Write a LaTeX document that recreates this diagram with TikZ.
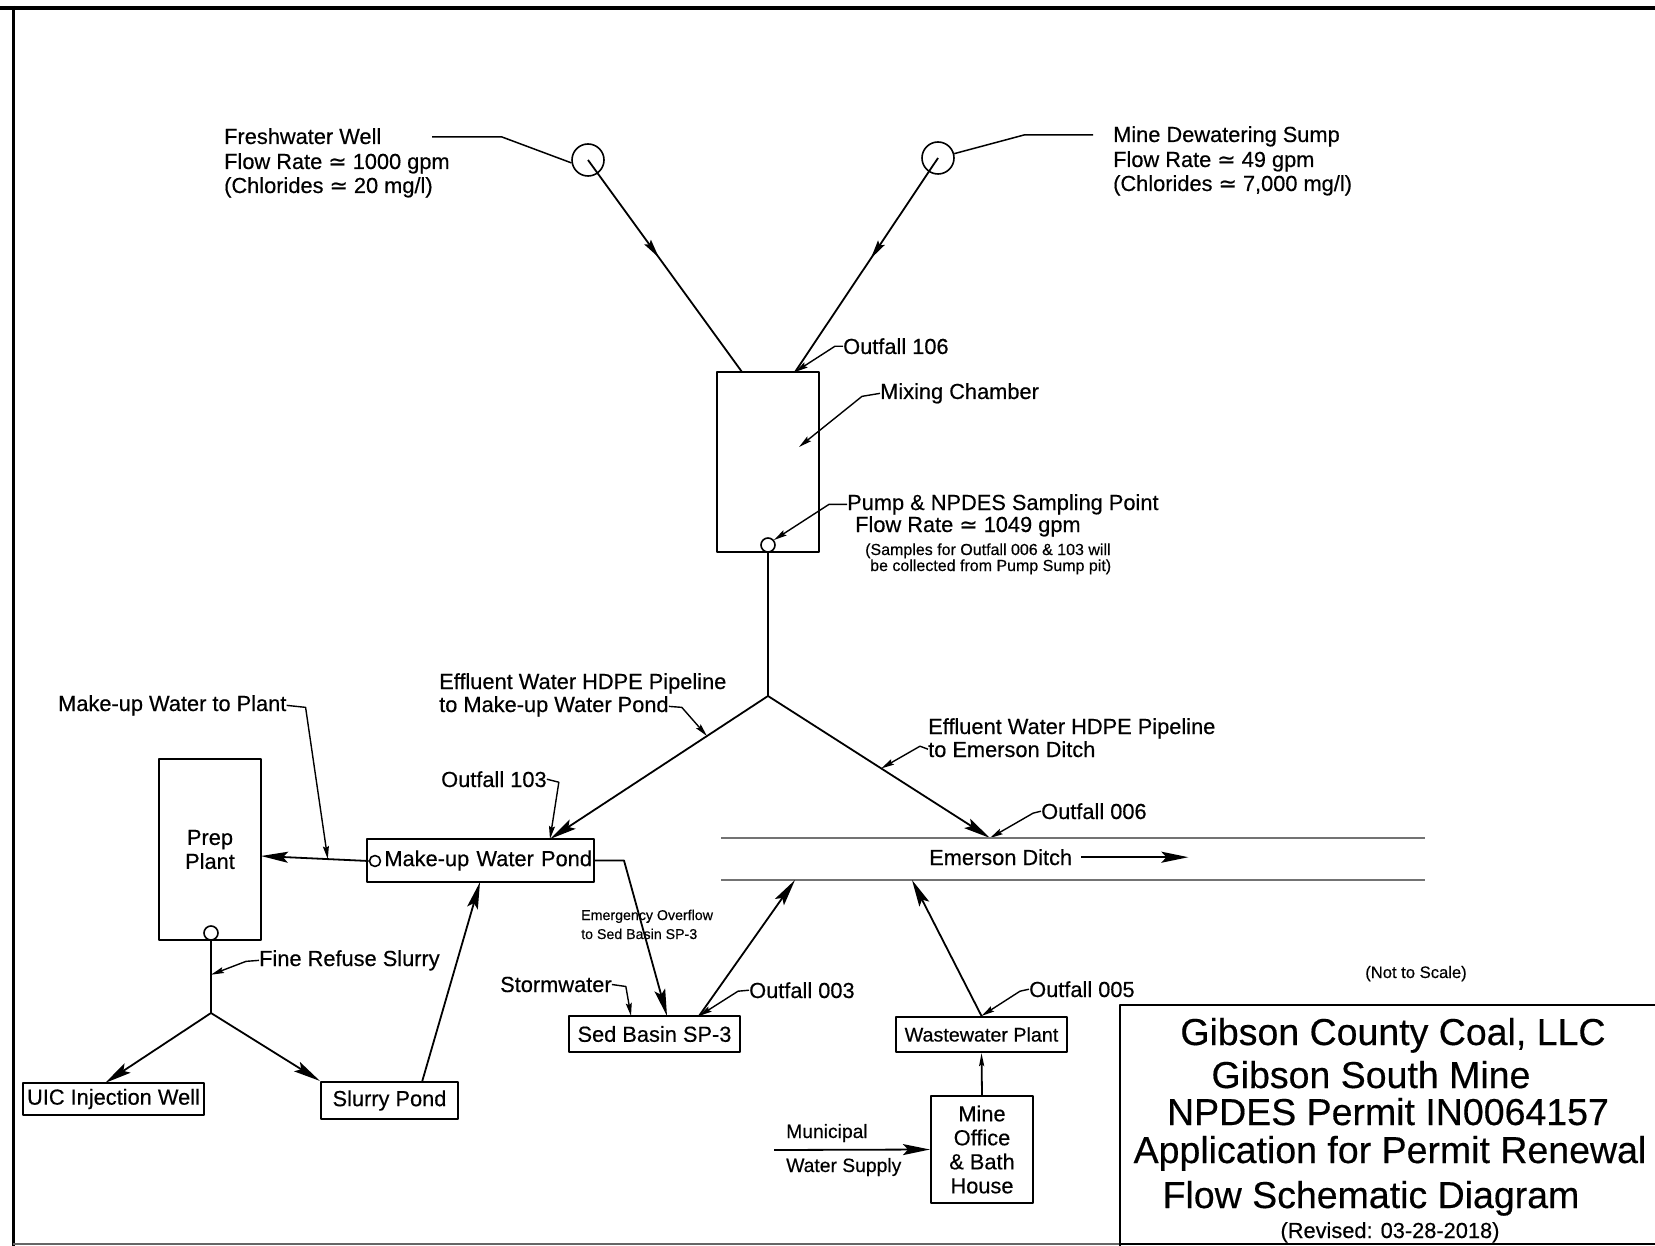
\documentclass[tikz,border=0pt]{standalone}
\usepackage{fontspec}
\setmainfont{Liberation Sans}[FakeBold=0.4]
\newfontfamily\dvsym{DejaVu Sans}[FakeBold=0.4]
\usetikzlibrary{arrows.meta,calc,decorations.markings}
\newcommand\approxsym{{\dvsym ≃}}
\newcommand\fmain{\fontsize{21.8}{24}\selectfont}
\newcommand\fsmall{\fontsize{16}{17}\selectfont}
\newcommand\ftiny{\fontsize{14.2}{16}\selectfont}
\newcommand\fmuni{\fontsize{19.3}{22}\selectfont}
\newcommand\fww{\fontsize{19.7}{22}\selectfont}
\newcommand\ftitle{\fontsize{37.5}{40}\selectfont}
\newcommand\fnote{\fontsize{16.6}{18}\selectfont}
\begin{document}
\begin{tikzpicture}[x=1pt,y=-1pt,line join=round,
  pipe/.style={line width=1.8pt},
  flow/.style={pipe,-{Stealth[length=27pt,width=11pt,inset=5pt]}},
  smallflow/.style={pipe,-{Stealth[length=13pt,width=5pt,inset=2pt]}},
  lead/.style={line width=1.4pt,-{Stealth[length=13pt,width=6pt,inset=2pt]}},
  ldr/.style={line width=1.5pt},
  midarr/.style={pipe,postaction={decorate},decoration={markings,mark=at position #1 with {\arrow{Stealth[length=19pt,width=8pt,inset=3pt]}}}},
  box/.style={draw,line width=2.1pt,inner sep=0pt,font=\fmain,align=center},
  lbl/.style={inner sep=0pt,anchor=base west,font=\fmain},
  ring/.style={draw,circle,line width=1.6pt,inner sep=0pt},
  ditchline/.style={line width=1.8pt,black!55},
  ttl/.style={inner sep=0pt,anchor=base,font=\ftitle}]
\fill[white] (0,0) rectangle (1655,1246);
\useasboundingbox (0,0) rectangle (1655,1246);
% page border
\draw[line width=4.5pt] (0,8) -- (1655,8);
\draw[line width=3pt] (13,6) -- (13,1246);
\draw[line width=1.5pt,black!60] (13,1244) -- (1655,1244);

% sources
\node[ring,minimum size=32pt] (fwC) at (588,160) {};
\node[ring,minimum size=32pt] (mdC) at (938,158) {};
\node[lbl] (fw1) at (224,144) {Freshwater Well};
\node[lbl] (fw2) at (224,169) {Flow Rate \approxsym\ 1000 gpm};
\node[lbl] (fw3) at (224,193) {(Chlorides \approxsym\ 20 mg/l)};
\node[lbl] (md1) at (1113,142) {Mine Dewatering Sump};
\node[lbl] (md2) at (1113,167) {Flow Rate \approxsym\ 49 gpm};
\node[lbl] (md3) at (1113,191) {(Chlorides \approxsym\ 7,000 mg/l)};
\coordinate (fwL) at (432,137);
\coordinate (mdL) at (1093,135);
\draw[ldr] (fwL) -- (502,137) -- (fwC.190);
\draw[ldr] (mdL) -- (1024,135) -- (mdC.15);

% mixing chamber
\node[box,minimum width=102pt,minimum height=180pt] (mix) at (768,462) {};
\coordinate (mixL) at (742,372);
\coordinate (mixR) at (795,372);
\draw[midarr=0.46] (fwC.center) -- (mixL);
\draw[midarr=0.47] (mdC.center) -- (mixR);
\node[ring,minimum size=14pt] (pump) at (768,545) {};
\node[lbl] (o106) at (843,354) {Outfall 106};
\draw[lead] (o106.west) -- ++(-8,0) -- (mixR);
\node[lbl] (mixT) at (880,399) {Mixing Chamber};
\coordinate (mixPt) at (799,447);
\draw[lead] (mixT.west) -- ++(-18,3) -- (mixPt);
\node[lbl] (pmp1) at (847,510) {Pump \& NPDES Sampling Point};
\node[lbl] (pmp2) at (855,532) {Flow Rate \approxsym\ 1049 gpm};
\node[lbl,font=\fsmall] (pmp3) at (865,555) {(Samples for Outfall 006 \& 103 will};
\node[lbl,font=\fsmall] (pmp4) at (870,571) {be collected from Pump Sump pit)};
\draw[lead] (pmp1.west) -- ++(-18,0) -- (pump.40);

% effluent split
\coordinate (J1) at (768,696);
\draw[pipe] (pump.south) -- (J1);
\coordinate (pondIn) at (550,839);
\coordinate (ditchIn) at (990,838);
\draw[flow] (J1) -- (pondIn);
\draw[flow] (J1) -- (ditchIn);
\node[lbl] (eL1) at (439,689) {Effluent Water HDPE Pipeline};
\node[lbl] (eL2) at (439,712) {to Make-up Water Pond};
\draw[lead] (eL2.east) -- ++(13,1) -- ($(J1)!0.28!(pondIn)$);
\node[lbl] (eR1) at (928,734) {Effluent Water HDPE Pipeline};
\node[lbl] (eR2) at (928,757) {to Emerson Ditch};
\draw[lead] (eR2.west) -- ++(-8,-3) -- ($(J1)!0.51!(ditchIn)$);
\node[lbl] (o103) at (441,787) {Outfall 103};
\draw[lead] (o103.east) -- ++(12,3) -- (pondIn);
\node[lbl] (o006) at (1041,819) {Outfall 006};
\draw[lead] (o006.west) -- ++(-8,2) -- (ditchIn);

% Emerson Ditch
\coordinate (dA) at (721,838);
\coordinate (dB) at (1425,838);
\coordinate (dC) at (721,880);
\coordinate (dD) at (1425,880);
\draw[ditchline] (dA) -- (dB);
\draw[ditchline] (dC) -- (dD);
\node[lbl] (ditch) at (929,865) {Emerson Ditch};
\draw[flow] ([xshift=9pt]ditch.east) -- ++(107,0);

% make-up water pond and prep plant
\node[box,minimum width=227pt,minimum height=43pt,text width=223pt,align=right] (pond) at (480.5,860.5) {Make-up Water Pond};
\node[ring,minimum size=11pt] (pondC) at (375,861) {};
\node[box,minimum width=102pt,minimum height=181pt] (prep) at (210,849.5) {Prep\\Plant};
\coordinate (prepIn) at (261,856);
\draw[flow] (pondC.west) -- (prepIn);
\node[lbl] (mwp) at (58,711) {Make-up Water to Plant};
\draw[lead] (mwp.east) -- ++(19,2) -- ($(pondC.west)!0.38!(prepIn)$);
\node[ring,minimum size=14pt] (prepC) at (211,933) {};
\coordinate (J2) at (211,1013);
\draw[pipe] (prepC.south) -- (J2);
\node[lbl] (frs) at (259,966) {Fine Refuse Slurry};
\draw[lead] (frs.west) -- ++(-13,1) -- ($(prepC.south)!0.47!(J2)$);
\node[box,minimum width=181pt,minimum height=32pt] (uic) at (113.5,1099) {UIC Injection Well};
\node[box,minimum width=137pt,minimum height=37pt] (slurry) at (389.5,1100.5) {Slurry Pond};
\coordinate (uicIn) at (105,1083);
\draw[flow] (J2) -- (uicIn);
\draw[flow] (J2) -- (slurry.north west);
\coordinate (slurryOut) at (422,1082);
\coordinate (pondBot) at (480,882);
\draw[flow] (slurryOut) -- (pondBot);

% sed basin
\node[box,minimum width=171pt,minimum height=36pt] (sed) at (654.5,1034) {Sed Basin SP-3};
\coordinate (sedIn) at (667,1016);
\draw[flow] (pond.east) -- (624,860.5) -- (sedIn);
\node[lbl,font=\ftiny] (eo1) at (581,920) {Emergency Overflow};
\node[lbl,font=\ftiny] (eo2) at (581,939) {to Sed Basin SP-3};
\node[lbl] (sw) at (500,992) {Stormwater};
\coordinate (swIn) at (631,1016);
\draw[lead] (sw.east) -- ++(14,2) -- (swIn);
\node[lbl] (o003) at (749,998) {Outfall 003};
\coordinate (sedOut) at (699,1016);
\draw[lead] (o003.west) -- ++(-11,1) -- (sedOut);
\coordinate (ditchB1) at (795,880);
\draw[flow] (sedOut) -- (ditchB1);

% wastewater
\node[box,minimum width=171pt,minimum height=35pt,font=\fww] (ww) at (981.5,1034.5) {Wastewater Plant};
\node[lbl] (o005) at (1029,997) {Outfall 005};
\draw[lead] (o005.west) -- ++(-9,2) -- (ww.north);
\coordinate (ditchB2) at (912,880);
\draw[flow] (ww.north) -- (ditchB2);
\node[box,minimum width=102pt,minimum height=107pt] (office) at (982,1149.5) {Mine\\Office\\\& Bath\\House};
\draw[smallflow] (office.north) -- (ww.south);
\coordinate (muniS) at (774,1150);
\draw[flow] (muniS) -- (office.west);
\node[lbl,font=\fmuni] (mun1) at (786,1138) {Municipal};
\node[lbl,font=\fmuni] (mun2) at (786,1172) {Water Supply};

% title block
\node[inner sep=0pt,anchor=base,font=\fnote] (nts) at (1416,978) {(Not to Scale)};
\draw[line width=2.2pt] (1665,1005) -- (1120,1005) -- (1120,1256);
\draw[line width=2pt] (1120,1244) -- (1665,1244);
\node[ttl] (t1) at (1393,1045) {Gibson County Coal, LLC};
\node[ttl] (t2) at (1371,1088) {Gibson South Mine};
\node[ttl] (t3) at (1388,1125) {NPDES Permit IN0064157};
\node[ttl] (t4) at (1390,1163) {Application for Permit Renewal};
\node[ttl] (t5) at (1371,1208) {Flow Schematic Diagram};
\node[ttl,font=\fmain] (t6) at (1390,1238) {(Revised: 03-28-2018)};
\end{tikzpicture}
\end{document}
